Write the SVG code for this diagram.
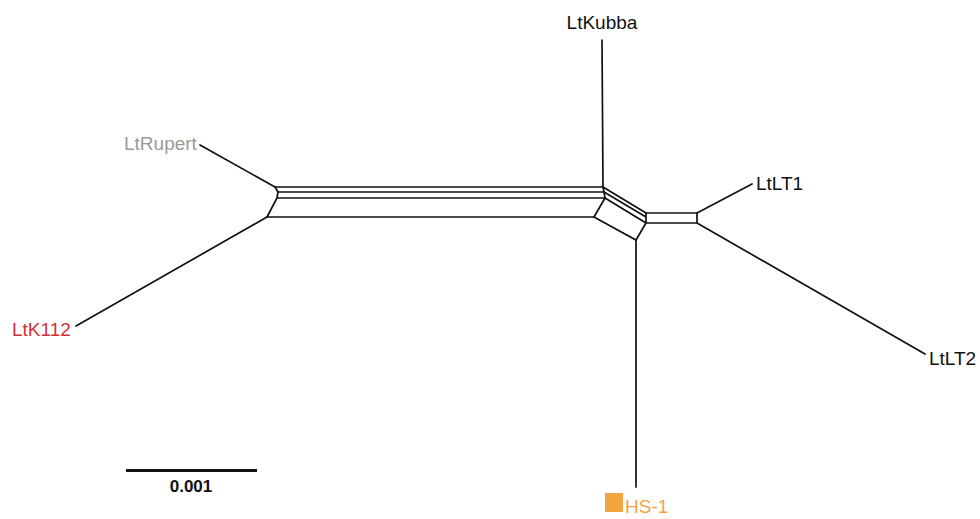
<svg xmlns="http://www.w3.org/2000/svg" width="980" height="519" viewBox="0 0 980 519">
<style>
.e{stroke:#111;stroke-width:1.7;fill:none;stroke-linecap:round}
.t{font-family:"Liberation Sans",Arial,sans-serif;font-size:19px}
</style>
<rect width="980" height="519" fill="#fff"/>
<g id="connectors">
<path class="e" d="M275,187 L603,187 M278,192 L604,192 M277,198 L605,198 M267,217 L594,217"/>
<path class="e" d="M275,187 L278,192 L277,198 L267,217"/>
<path class="e" d="M200,145 L275,187 M76,326 L267,217"/>
<path class="e" d="M602,40 L603,187 L604,192 L605,198 L594,217"/>
<path class="e" d="M603,187 L646,213 M604,192 L646,217 M605,198 L646,223 M594,217 L636,240 L646,223 L646,213"/>
<path class="e" d="M646,213 L697,213 L697,223 L646,223"/>
<path class="e" d="M697,213 L752,184 M697,223 L925,354 M636,240 L636,487"/>
</g>
<g id="LtKubba"><text class="t" x="602" y="29" text-anchor="middle" fill="#111">LtKubba</text></g>
<g id="LtRupert"><text class="t" x="124" y="150" fill="#9a9a9a">LtRupert</text></g>
<g id="LtK112"><text class="t" x="12" y="336" fill="#d03038">LtK112</text></g>
<g id="LtLT1"><text class="t" x="756" y="190" fill="#111">LtLT1</text></g>
<g id="LtLT2"><text class="t" x="929" y="365" fill="#111">LtLT2</text></g>
<g id="HS-1"><rect x="605" y="493" width="18" height="19" fill="#f0a540"/><text class="t" x="625" y="513" fill="#f0a540">HS-1</text></g>
<g id="scale"><line x1="126" y1="470.5" x2="257" y2="470.5" stroke="#111" stroke-width="3"/><text x="191" y="492" text-anchor="middle" font-family="Liberation Sans,Arial,sans-serif" font-weight="bold" font-size="17" fill="#111">0.001</text></g>
</svg>
